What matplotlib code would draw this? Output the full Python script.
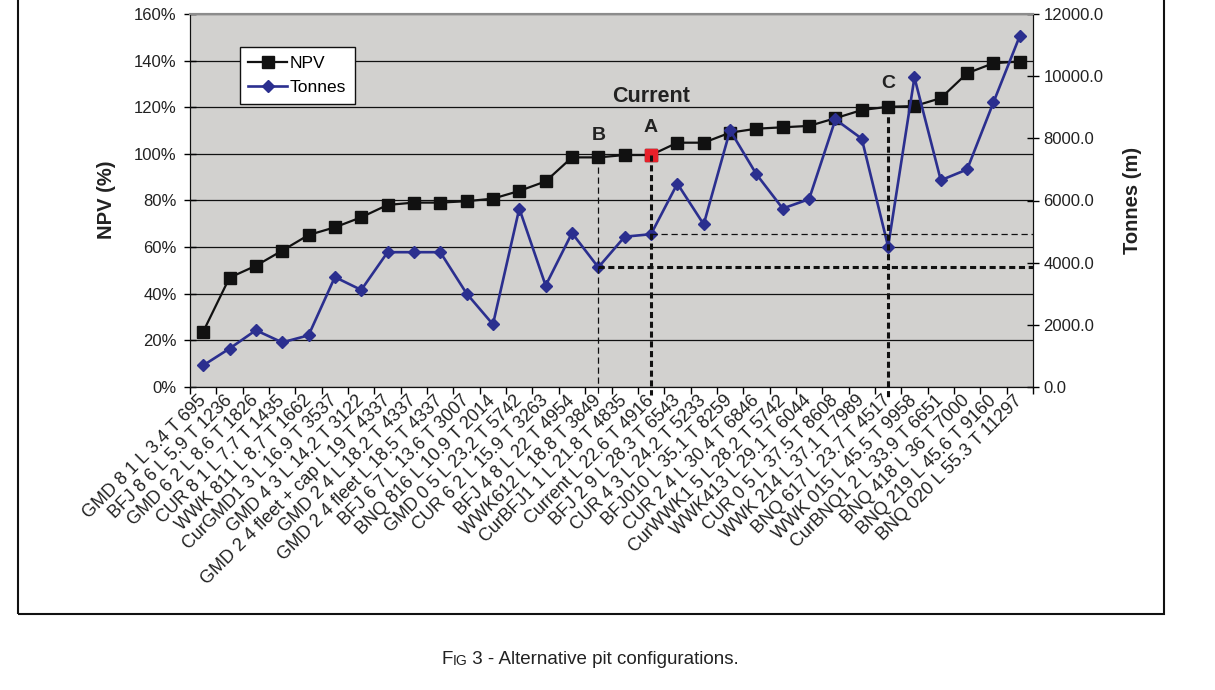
import matplotlib
matplotlib.use("Agg")
import matplotlib.pyplot as plt
from matplotlib.patches import Rectangle
from matplotlib.text import Annotation
from matplotlib.ticker import FuncFormatter, MultipleLocator

plt.rcParams['font.family'] = ['Liberation Sans', 'DejaVu Sans']

# pit configurations, ordered by NPV
categories = [
    "GMD 8 1 L 3.4 T 695", "BFJ 8 6 L 5.9 T 1236", "GMD 6 2 L 8.6 T 1826",
    "CUR 8 1 L 7.7 T 1435", "WWK 811 L 8.7 T 1662", "CurGMD1 3 L 16.9 T 3537",
    "GMD 4 3 L 14.2 T 3122", "GMD 2 4 fleet + cap L 19 T 4337",
    "GMD 2 4 L 18.2 T 4337", "GMD 2 4 fleet L 18.5 T 4337",
    "BFJ 6 7 L 13.6 T 3007", "BNQ 816 L 10.9 T 2014", "GMD 0 5 L 23.2 T 5742",
    "CUR 6 2 L 15.9 T 3263", "BFJ 4 8 L 22 T 4954", "WWK612 L 18.8 T 3849",
    "CurBFJ1 1 L 21.8 T 4835", "Current L 22.6 T 4916", "BFJ 2 9 L 28.3 T 6543",
    "CUR 4 3 L 24.2 T 5233", "BFJ010 L 35.1 T 8259", "CUR 2 4 L 30.4 T 6846",
    "CurWWK1 5 L 28.2 T 5742", "WWK413 L 29.1 T 6044", "CUR 0 5 L 37.5 T 8608",
    "WWK 214 L 37.1 T 7989", "BNQ 617 L 23.7 T 4517", "WWK 015 L 45.5 T 9958",
    "CurBNQ1 2 L 33.9 T 6651", "BNQ 418 L 36 T 7000", "BNQ 219 L 45.6 T 9160",
    "BNQ 020 L 55.3 T 11297",
]
npv = [23.7, 46.9, 52.0, 58.5, 65.2, 68.5, 72.8, 78.1, 79.1, 79.1, 79.7, 80.8,
       84.1, 88.2, 98.5, 98.5, 99.5, 99.5, 104.8, 104.8, 109.1, 110.8, 111.4,
       112.0, 115.3, 118.8, 120.2, 120.5, 123.9, 134.6, 138.9, 139.6]
tonnes = [695, 1236, 1826, 1435, 1662, 3537, 3122, 4337, 4337, 4337, 3007,
          2014, 5742, 3263, 4954, 3849, 4835, 4916, 6543, 5233, 8259, 6846,
          5742, 6044, 8608, 7989, 4517, 9958, 6651, 7000, 9160, 11297]

iB, iA, iC = 15, 17, 26   # marked options
navy = '#2b2f8f'
ink = '#222222'
W, H = 1215, 690

fig = plt.figure(figsize=(W / 100, H / 100), dpi=100)
ax = fig.add_axes([190 / W, 1 - 387 / H, 843 / W, 373 / H])
ax2 = ax.twinx()

ax.set_facecolor('#d2d1cf')
x = list(range(len(categories)))

l1, = ax.plot(x, npv, color='#111111', lw=1.6, marker='s', ms=9, label='NPV')
ax.plot([iA], [npv[iA]], ls='none', marker='s', ms=9, color='#e8202a', zorder=5)
l2, = ax2.plot(x, tonnes, color=navy, lw=1.9, marker='D', ms=6.3, label='Tonnes')

# guide lines
thick = dict(color='#111111', lw=2.2, ls=(0, (2, 1.2)), clip_on=False, zorder=4)
thin = dict(color='#111111', lw=0.9, ls=(0, (5, 3)), clip_on=False, zorder=4)
ax2.plot([iB, iB], [npv[iB], -3], transform=ax.transData, **thin)
ax2.plot([iA, iA], [npv[iA], -3.5], transform=ax.transData, **thick)
ax2.plot([iC, iC], [npv[iC], -5], transform=ax.transData, **thick)
ax2.plot([iB, len(x) - 0.5], [tonnes[iB]] * 2, **thick)
ax2.plot([iA, len(x) - 0.5], [tonnes[iA]] * 2, **thin)

lab = dict(textcoords='offset points', ha='center', va='center',
           fontweight='bold', color=ink)
ax.annotate('Current', (iA, npv[iA]), xytext=(0, 42), fontsize=15.5, **lab)
ax.annotate('A', (iA, npv[iA]), xytext=(0, 20), fontsize=14, **lab)
ax.annotate('B', (iB, npv[iB]), xytext=(0, 16), fontsize=14, **lab)
ax.annotate('C', (iC, npv[iC]), xytext=(0, 17), fontsize=14, **lab)

# axes
ax.set_xlim(-0.5, len(x) - 0.5)
ax.set_ylim(0, 160)
ax2.set_ylim(0, 12000)
ax.yaxis.set_major_locator(MultipleLocator(20))
ax2.yaxis.set_major_locator(MultipleLocator(2000))
ax.yaxis.set_major_formatter(FuncFormatter(lambda v, p: f'{v:.0f}%'))
ax2.yaxis.set_major_formatter(FuncFormatter(lambda v, p: f'{v:.1f}'))
ax.grid(axis='y', color='#111111', lw=0.9)
ax.set_axisbelow(True)

ax.set_xticks(x)
ax.set_xticklabels(categories, rotation=45, ha='right', va='center',
                   rotation_mode='anchor', fontsize=13, color=ink)
ax.set_xticks([i - 0.5 for i in range(len(x) + 1)], minor=True)
ax.tick_params(axis='x', which='major', length=0, pad=8)
ax.tick_params(axis='x', which='minor', length=5, direction='out', width=1)
ax.tick_params(axis='y', direction='inout', length=9, width=1, pad=5,
               labelsize=12, labelcolor=ink)
ax2.tick_params(axis='y', direction='inout', length=9, width=1, pad=3,
                labelsize=12, labelcolor=ink)

for a in (ax, ax2):
    for s in ('left', 'right', 'bottom'):
        a.spines[s].set_color('#111111')
    a.spines['top'].set_color('#8c8c8c')
    a.spines['top'].set_linewidth(1.5)

ax.legend([l1, l2], ['NPV', 'Tonnes'], loc='upper left',
          bbox_to_anchor=(0.059, 0.912), fancybox=False, edgecolor='#111111',
          framealpha=1, fontsize=12.5, handlelength=2.2, handletextpad=0.2,
          borderpad=0.5, labelspacing=0.55, borderaxespad=0)

fig.text(107 / W, 1 - 200 / H, 'NPV (%)', rotation=90, ha='center',
         va='center', fontsize=14.5, fontweight='bold', color=ink)
fig.text(1132 / W, 1 - 200 / H, 'Tonnes (m)', rotation=90, ha='center',
         va='center', fontsize=14.5, fontweight='bold', color=ink)

# outer frame and caption
fig.add_artist(Rectangle((18 / W, 1 - 614 / H), (1164 - 18) / W, 614 / H + 0.1,
                         transform=fig.transFigure, fill=False,
                         edgecolor='#111111', lw=1.5, clip_on=False))
t1 = fig.text(441 / W, 1 - 664 / H, 'F', fontsize=13.5, va='baseline',
              color=ink)
a2 = fig.add_artist(Annotation('IG', xy=(1, 0), xycoords=t1, va='bottom',
                               fontsize=10, color=ink))
fig.add_artist(Annotation(' 3 - Alternative pit configurations.', xy=(1, 0),
                          xycoords=a2, va='bottom', fontsize=13.5, color=ink))

fig.savefig('out.png', dpi=100)
